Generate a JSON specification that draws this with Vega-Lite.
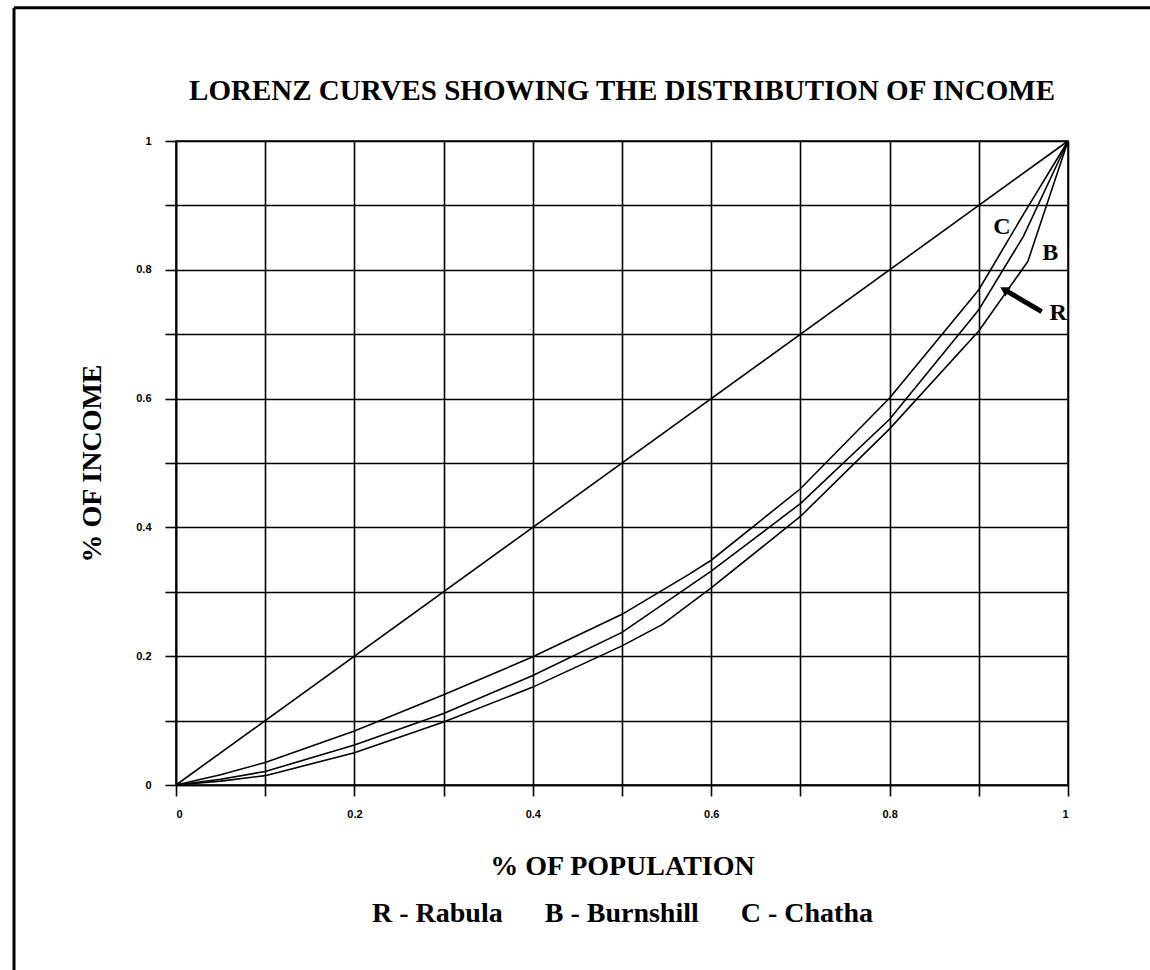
{
  "$schema": "https://vega.github.io/schema/vega-lite/v6.json",
  "width": 892,
  "height": 644,
  "autosize": "none",
  "padding": {"left": 176, "top": 141, "right": 82, "bottom": 185},
  "background": "white",
  "title": {
    "text": "LORENZ CURVES SHOWING THE DISTRIBUTION OF INCOME",
    "font": "Liberation Serif",
    "fontSize": 29,
    "fontWeight": "bold",
    "color": "black",
    "anchor": "middle",
    "frame": "group",
    "baseline": "alphabetic",
    "offset": 11,
    "dy": 134
  },
  "config": {
    "view": {"stroke": "black", "strokeWidth": 1.5},
    "axis": {
      "grid": true,
      "gridColor": "black",
      "gridWidth": 1.6,
      "gridOpacity": 1,
      "domainColor": "black",
      "domainWidth": 1.6,
      "tickColor": "black",
      "tickWidth": 1.6,
      "tickSize": 11,
      "labelFont": "Liberation Sans",
      "labelFontSize": 11,
      "labelFontWeight": 900,
      "labelColor": "black",
      "titleFont": "Liberation Serif",
      "titleFontWeight": "bold",
      "titleColor": "black"
    }
  },
  "layer": [
    {
      "data": {
        "values": [
          {"curve": "Equality", "pop": 0, "income": 0},
          {"curve": "Equality", "pop": 1, "income": 1},
          {"curve": "C", "pop": 0, "income": 0},
          {"curve": "C", "pop": 0.05, "income": 0.016},
          {"curve": "C", "pop": 0.1, "income": 0.035},
          {"curve": "C", "pop": 0.2, "income": 0.084},
          {"curve": "C", "pop": 0.3, "income": 0.14},
          {"curve": "C", "pop": 0.4, "income": 0.199},
          {"curve": "C", "pop": 0.5, "income": 0.265},
          {"curve": "C", "pop": 0.575, "income": 0.327},
          {"curve": "C", "pop": 0.6, "income": 0.349},
          {"curve": "C", "pop": 0.7, "income": 0.46},
          {"curve": "C", "pop": 0.8, "income": 0.601},
          {"curve": "C", "pop": 0.9, "income": 0.769},
          {"curve": "C", "pop": 0.95, "income": 0.886},
          {"curve": "C", "pop": 1, "income": 1},
          {"curve": "R", "pop": 0, "income": 0},
          {"curve": "R", "pop": 0.05, "income": 0.009},
          {"curve": "R", "pop": 0.1, "income": 0.021},
          {"curve": "R", "pop": 0.2, "income": 0.062},
          {"curve": "R", "pop": 0.3, "income": 0.111},
          {"curve": "R", "pop": 0.4, "income": 0.17},
          {"curve": "R", "pop": 0.5, "income": 0.237},
          {"curve": "R", "pop": 0.6, "income": 0.332},
          {"curve": "R", "pop": 0.7, "income": 0.437},
          {"curve": "R", "pop": 0.8, "income": 0.568},
          {"curve": "R", "pop": 0.9, "income": 0.738},
          {"curve": "R", "pop": 0.95, "income": 0.852},
          {"curve": "R", "pop": 1, "income": 1},
          {"curve": "B", "pop": 0, "income": 0},
          {"curve": "B", "pop": 0.05, "income": 0.006},
          {"curve": "B", "pop": 0.1, "income": 0.0145},
          {"curve": "B", "pop": 0.2, "income": 0.05},
          {"curve": "B", "pop": 0.3, "income": 0.098},
          {"curve": "B", "pop": 0.4, "income": 0.152},
          {"curve": "B", "pop": 0.5, "income": 0.216},
          {"curve": "B", "pop": 0.545, "income": 0.249},
          {"curve": "B", "pop": 0.6, "income": 0.306},
          {"curve": "B", "pop": 0.7, "income": 0.417},
          {"curve": "B", "pop": 0.8, "income": 0.553},
          {"curve": "B", "pop": 0.9, "income": 0.705},
          {"curve": "B", "pop": 0.955, "income": 0.813},
          {"curve": "B", "pop": 1, "income": 1}
        ]
      },
      "mark": {"type": "line", "color": "black", "strokeWidth": 1.6},
      "encoding": {
        "x": {
          "field": "pop",
          "type": "quantitative",
          "scale": {"domain": [0, 1], "nice": false, "zero": false},
          "axis": {
            "values": [0, 0.1, 0.2, 0.3, 0.4, 0.5, 0.6, 0.7, 0.8, 0.9, 1],
            "labelExpr": "round(datum.value*10) % 2 == 0 ? '' + round(datum.value*10)/10 : ''",
            "labelPadding": 12,
            "title": ["% OF POPULATION", "R - Rabula\u00a0\u00a0\u00a0\u00a0\u00a0\u00a0B - Burnshill\u00a0\u00a0\u00a0\u00a0\u00a0\u00a0C - Chatha"],
            "titleFontSize": 28,
            "titleLineHeight": 47,
            "titlePadding": 33
          }
        },
        "y": {
          "field": "income",
          "type": "quantitative",
          "scale": {"domain": [0, 1], "nice": false, "zero": false},
          "axis": {
            "values": [0, 0.1, 0.2, 0.3, 0.4, 0.5, 0.6, 0.7, 0.8, 0.9, 1],
            "labelExpr": "round(datum.value*10) % 2 == 0 ? '' + round(datum.value*10)/10 : ''",
            "labelPadding": 14,
            "title": "% OF INCOME",
            "titleFontSize": 28,
            "titlePadding": 29
          }
        },
        "detail": {"field": "curve", "type": "nominal"}
      }
    },
    {
      "data": {
        "values": [
          {"label": "C", "px": 0.926, "py": 0.866},
          {"label": "B", "px": 0.98, "py": 0.826},
          {"label": "R", "px": 0.989, "py": 0.733}
        ]
      },
      "mark": {"type": "text", "font": "Liberation Serif", "fontWeight": "bold", "fontSize": 24, "color": "black", "align": "center", "baseline": "middle"},
      "encoding": {
        "x": {"field": "px", "type": "quantitative"},
        "y": {"field": "py", "type": "quantitative"},
        "text": {"field": "label"}
      }
    },
    {
      "data": {"values": [{"x1": 0.9705, "y1": 0.735, "x2": 0.931, "y2": 0.7672}]},
      "mark": {"type": "rule", "color": "black", "strokeWidth": 5},
      "encoding": {
        "x": {"field": "x1", "type": "quantitative"},
        "y": {"field": "y1", "type": "quantitative"},
        "x2": {"field": "x2"},
        "y2": {"field": "y2"}
      }
    },
    {
      "data": {"values": [{"x": 0.9285, "y": 0.7692}]},
      "mark": {"type": "point", "shape": "triangle-up", "filled": true, "color": "black", "size": 110, "angle": 300, "opacity": 1},
      "encoding": {
        "x": {"field": "x", "type": "quantitative"},
        "y": {"field": "y", "type": "quantitative"}
      }
    },
    {
      "data": {"values": [{"frame": "left"}]},
      "mark": {"type": "rule", "color": "black", "strokeWidth": 3},
      "encoding": {
        "x": {"datum": -0.1816},
        "y": {"datum": -0.3},
        "y2": {"datum": 1.207}
      }
    },
    {
      "data": {"values": [{"frame": "top"}]},
      "mark": {"type": "rule", "color": "black", "strokeWidth": 3},
      "encoding": {
        "x": {"datum": -0.1816},
        "x2": {"datum": 1.1},
        "y": {"datum": 1.207}
      }
    }
  ]
}
